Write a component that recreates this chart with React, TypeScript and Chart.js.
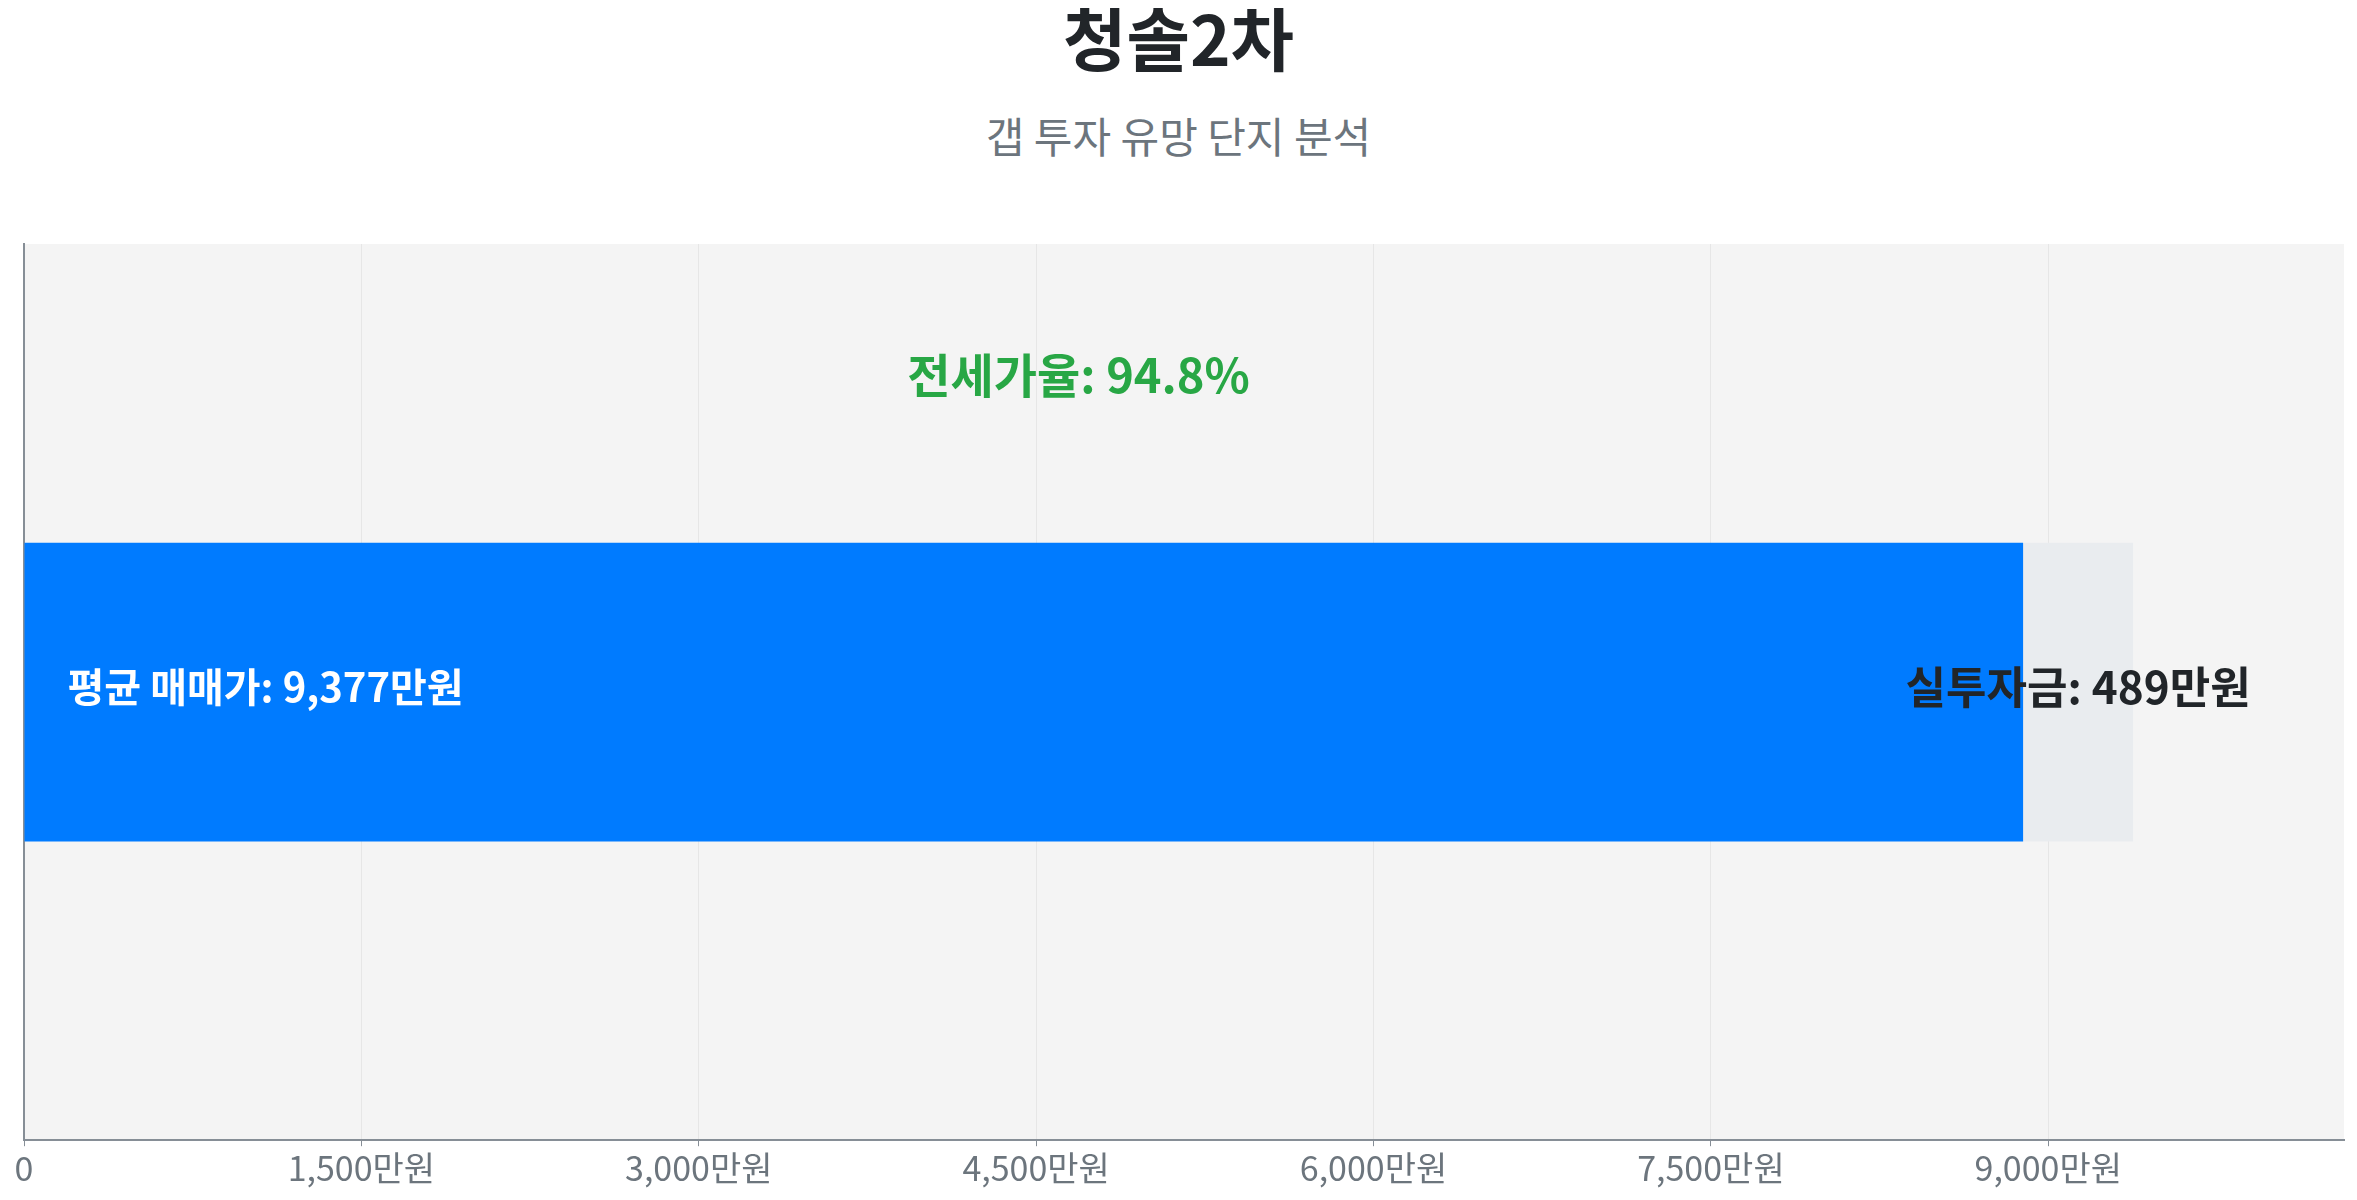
import React, { useRef, useEffect } from 'react';
import { Chart, ChartConfiguration, registerables } from 'chart.js';

Chart.register(...registerables);

const FONT = "'Noto Sans CJK KR', 'Noto Sans', sans-serif";

const complexName = '청솔2차';
const subtitleText = '갭 투자 유망 단지 분석';
const categories = ['청솔2차'];
const avgPrice = [9377];
const jeonsePrice = [8888];
const gapAmount = [489];
const jeonseRatio = [94.8];
const tickValues = [0, 1500, 3000, 4500, 6000, 7500, 9000];

const fmt = (v: number) => v.toLocaleString('ko-KR');

// 차트 영역 배경
const plotBackground = {
  id: 'plotBackground',
  beforeDraw(chart: Chart) {
    const { ctx, chartArea } = chart;
    ctx.save();
    ctx.fillStyle = '#f4f4f4';
    ctx.fillRect(chartArea.left, chartArea.top, chartArea.right - chartArea.left, chartArea.bottom - chartArea.top);
    ctx.restore();
  }
};

// 막대 위 라벨들
const barLabels = {
  id: 'barLabels',
  afterDatasetsDraw(chart: Chart) {
    const { ctx } = chart;
    const jeonseBar: any = chart.getDatasetMeta(0).data[0];
    const gapBar: any = chart.getDatasetMeta(1).data[0];
    if (!jeonseBar || !gapBar) return;
    ctx.save();
    ctx.textBaseline = 'middle';

    ctx.font = `bold 40px ${FONT}`;
    ctx.fillStyle = '#ffffff';
    ctx.textAlign = 'left';
    ctx.fillText(`평균 매매가: ${fmt(avgPrice[0])}만원`, jeonseBar.base + 43, jeonseBar.y - 5);

    ctx.font = `bold 44px ${FONT}`;
    ctx.fillStyle = '#212529';
    ctx.textAlign = 'center';
    ctx.fillText(`실투자금: ${fmt(gapAmount[0])}만원`, (gapBar.x + gapBar.base) / 2, gapBar.y - 5);

    const xScale = chart.scales.x;
    ctx.font = `bold 47px ${FONT}`;
    ctx.fillStyle = '#28a745';
    ctx.fillText(`전세가율: ${jeonseRatio[0]}%`, xScale.getPixelForValue(avgPrice[0] / 2), jeonseBar.y - jeonseBar.height / 2 - 168);
    ctx.restore();
  }
};

const GapChart: React.FC = () => {
  const canvasRef = useRef<HTMLCanvasElement>(null);
  const chartRef = useRef<Chart | null>(null);

  useEffect(() => {
    if (!canvasRef.current) return;
    if (chartRef.current) chartRef.current.destroy();

    const config: ChartConfiguration = {
      type: 'bar',
      data: {
        labels: categories,
        datasets: [
          {
            label: '전세가',
            data: jeonsePrice,
            backgroundColor: '#007bff',
            borderWidth: 0,
            barPercentage: 1 / 3,
            categoryPercentage: 1
          },
          {
            label: '실투자금',
            data: gapAmount,
            backgroundColor: '#e9ecef',
            borderWidth: 0,
            barPercentage: 1 / 3,
            categoryPercentage: 1
          }
        ]
      },
      options: {
        indexAxis: 'y',
        animation: false,
        responsive: true,
        maintainAspectRatio: false,
        layout: { padding: { left: 16, right: 5, top: 17, bottom: 0 } },
        plugins: {
          legend: { display: false },
          tooltip: { enabled: false }
        },
        scales: {
          x: {
            stacked: true,
            min: 0,
            max: avgPrice[0] * 1.1,
            afterBuildTicks: (axis: any) => {
              axis.ticks = tickValues.map((v) => ({ value: v }));
            },
            ticks: {
              color: '#6c757d',
              padding: 1,
              autoSkip: false,
              maxRotation: 0,
              font: { family: FONT, size: 34 },
              callback: (v: any) => (Number(v) === 0 ? '0' : `${fmt(Number(v))}만원`)
            },
            grid: {
              color: '#e6e6e6',
              lineWidth: 1,
              tickColor: '#868e96',
              tickLength: 6
            },
            border: { color: '#868e96', width: 2 }
          },
          y: {
            stacked: true,
            ticks: { display: false },
            grid: { display: false, drawTicks: false, tickLength: 0 },
            border: { color: '#868e96', width: 2 }
          }
        }
      },
      plugins: [plotBackground, barLabels]
    };

    chartRef.current = new Chart(canvasRef.current, config);
    return () => {
      if (chartRef.current) chartRef.current.destroy();
    };
  }, []);

  return (
    <div style={{ position: 'relative', height: '962px', width: '100%', marginTop: '71px' }}>
      <canvas ref={canvasRef} />
    </div>
  );
};

export default function App() {
  return (
    <div style={{ fontFamily: FONT }}>
      <div style={{ fontSize: '69px', fontWeight: 700, lineHeight: '64px', marginTop: '-4px', textAlign: 'center', color: '#212529' }}>
        {complexName}
      </div>
      <div style={{ fontSize: '42px', lineHeight: '42px', marginTop: '46px', textAlign: 'center', color: '#6c757d' }}>
        {subtitleText}
      </div>
      <GapChart />
    </div>
  );
}
